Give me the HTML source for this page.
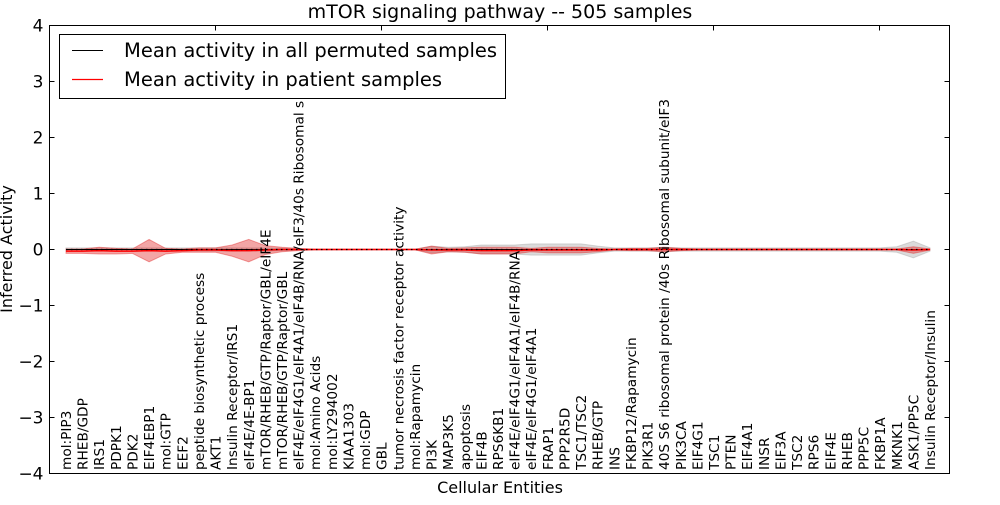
<!DOCTYPE html>
<html><head><meta charset="utf-8"><style>
body{margin:0;background:#fff;}
svg text{font-family:"DejaVu Sans","Liberation Sans",sans-serif;}
</style></head><body>
<svg id="chart" width="1000" height="500" viewBox="0 0 1000 500" xmlns="http://www.w3.org/2000/svg">
<rect x="0" y="0" width="1000" height="500" fill="#fff"/>
<text x="500" y="18" font-size="19" text-anchor="middle">mTOR signaling pathway -- 505 samples</text>
<g id="bands"></g>
<g id="lines"></g>
<g id="axes"></g>
<g id="xlabels"></g>
<rect x="49.5" y="25.5" width="900" height="448" fill="none" stroke="#000" stroke-width="1"/>
<text x="500" y="493" font-size="16" text-anchor="middle">Cellular Entities</text>
<text transform="translate(12,249) rotate(-90)" font-size="16" text-anchor="middle">Inferred Activity</text>
<g>
<rect x="59.5" y="34.5" width="446" height="64" fill="#fff" stroke="#000" stroke-width="1"/>
<line x1="72" y1="50.5" x2="103" y2="50.5" stroke="#000" stroke-width="1"/>
<text x="124" y="57" font-size="19.5">Mean activity in all permuted samples</text>
<line x1="72" y1="79.5" x2="103" y2="79.5" stroke="#ff0000" stroke-width="1.3"/>
<text x="124" y="86" font-size="19.5">Mean activity in patient samples</text>
</g>
</svg>
<script>
const categories = ["mol:PIP3","RHEB/GDP","IRS1","PDPK1","PDK2","EIF4EBP1","mol:GTP","EEF2","peptide biosynthetic process","AKT1","Insulin Receptor/IRS1","eIF4E/4E-BP1","mTOR/RHEB/GTP/Raptor/GBL/eIF4E","mTOR/RHEB/GTP/Raptor/GBL","eIF4E/eIF4G1/eIF4A1/eIF4B/RNA/eIF3/40s Ribosomal s","mol:Amino Acids","mol:LY294002","KIAA1303","mol:GDP","GBL","tumor necrosis factor receptor activity","mol:Rapamycin","PI3K","MAP3K5","apoptosis","EIF4B","RPS6KB1","eIF4E/eIF4G1/eIF4A1/eIF4B/RNA","eIF4E/eIF4G1/eIF4A1","FRAP1","PPP2R5D","TSC1/TSC2","RHEB/GTP","INS","FKBP12/Rapamycin","PIK3R1","40S S6 ribosomal protein /40s Ribosomal subunit/eIF3","PIK3CA","EIF4G1","TSC1","PTEN","EIF4A1","INSR","EIF3A","TSC2","RPS6","EIF4E","RHEB","PPP5C","FKBP1A","MKNK1","ASK1/PP5C","Insulin Receptor/Insulin"];
const patientMean = [-0.03,-0.03,-0.02,-0.03,-0.03,-0.02,-0.03,-0.02,-0.01,-0.01,-0.02,-0.02,-0.01,0.0,0.0,0.0,0.0,0.0,0.0,0.0,0.0,0.0,-0.01,-0.01,-0.01,-0.02,-0.02,-0.02,-0.01,-0.01,-0.01,-0.01,-0.01,0.0,0.0,0.0,0.0,0.0,0.0,0.0,0.0,0.0,0.0,0.0,0.0,0.0,0.0,0.0,0.0,0.0,0.0,-0.01,0.0];
const patientSpread = [0.04,0.04,0.06,0.05,0.04,0.2,0.05,0.03,0.04,0.04,0.1,0.2,0.08,0.04,0.02,0.005,0.005,0.005,0.005,0.005,0.005,0.005,0.07,0.03,0.04,0.06,0.06,0.06,0.03,0.05,0.05,0.05,0.03,0.01,0.02,0.02,0.04,0.02,0.01,0.01,0.01,0.01,0.01,0.01,0.01,0.01,0.01,0.01,0.01,0.01,0.01,0.06,0.01];
const permutedMean = [0.0,0.0,0.0,0.0,0.0,0.0,0.0,0.0,0.0,0.0,0.0,0.0,0.0,0.0,0.0,0.0,0.0,0.0,0.0,0.0,0.0,0.0,0.0,0.0,0.0,0.0,0.0,0.0,0.0,0.0,0.0,0.0,0.0,0.0,0.0,0.0,0.0,0.0,0.0,0.0,0.0,0.0,0.0,0.0,0.0,0.0,0.0,0.0,0.0,0.0,0.0,0.0,0.0];
const permutedSpread = [0.03,0.03,0.03,0.03,0.03,0.03,0.03,0.03,0.03,0.03,0.03,0.03,0.03,0.02,0.01,0.005,0.005,0.005,0.005,0.005,0.005,0.005,0.06,0.04,0.05,0.08,0.08,0.08,0.1,0.1,0.1,0.1,0.06,0.03,0.03,0.03,0.04,0.03,0.03,0.03,0.03,0.03,0.03,0.03,0.03,0.03,0.03,0.03,0.03,0.03,0.05,0.15,0.03];
const yTicks = [4,3,2,1,0,-1,-2,-3,-4];
const yTickLabels = ["4","3","2","1","0","\u22121","\u22122","\u22123","\u22124"];

const NS="http://www.w3.org/2000/svg";
const L=49.5,R=949.5,T=25.5,B=473.5;
function xs(i){return 66+i*(930-66)/(categories.length-1);}
function ys(v){return T+(4-v)*(B-T)/8;}
function mk(tag,attrs,parent){const e=document.createElementNS(NS,tag);for(const k in attrs)e.setAttribute(k,attrs[k]);parent.appendChild(e);return e;}
const bands=document.getElementById('bands'),lines=document.getElementById('lines'),axes=document.getElementById('axes'),xl=document.getElementById('xlabels');
function band(mean,spread,fill,op,name){
  let up=[],dn=[];
  mean.forEach((m,i)=>{up.push(xs(i)+','+ys(m+spread[i]));dn.unshift(xs(i)+','+ys(m-spread[i]));});
  const p=mk('polygon',{points:up.concat(dn).join(' '),fill:fill,'fill-opacity':op,stroke:fill,'stroke-opacity':op,'stroke-width':1},bands);
  
  
}
band(permutedMean,permutedSpread,'#999999',0.35,'permuted-band');
band(patientMean,patientSpread,'#e02020',0.4,'patient-band');
const bl=mk('polyline',{points:permutedMean.map((m,i)=>xs(i)+','+ys(m)).join(' '),fill:'none',stroke:'#000','stroke-width':1},lines);


const pl=mk('polyline',{points:patientMean.map((m,i)=>xs(i)+','+ys(m)).join(' '),fill:'none',stroke:'#f00','stroke-width':1.5},lines);


const dl=mk('polyline',{points:permutedMean.map((m,i)=>xs(i)+','+ys(m)).join(' '),fill:'none',stroke:'#000','stroke-width':1.2,'stroke-dasharray':'1.5,3.5'},lines);


yTicks.forEach((v,i)=>{
  const y=ys(v);
  const t1=mk('line',{x1:L,y1:y,x2:L+5,y2:y,stroke:'#000'},axes);
  
  
  const t2=mk('line',{x1:R-5,y1:y,x2:R,y2:y,stroke:'#000'},axes);
  
  
  const tx=mk('text',{x:L-6,y:y+6,'font-size':17,'text-anchor':'end'},axes);
  tx.textContent=yTickLabels[i];
  
  
});
for(let k=1;k<=5;k++){
  const x=L+k*166;
  if(x>=R)break;
  const t=mk('line',{x1:x,y1:T,x2:x,y2:T+5,stroke:'#000'},axes);
  
  
}
categories.forEach((c,i)=>{
  const x=xs(i)+5;
  const t=mk('text',{transform:'translate('+x+',470) rotate(-90)','font-size':13.7},xl);
  t.textContent=c;
  
  
});
</script>
</body></html>
